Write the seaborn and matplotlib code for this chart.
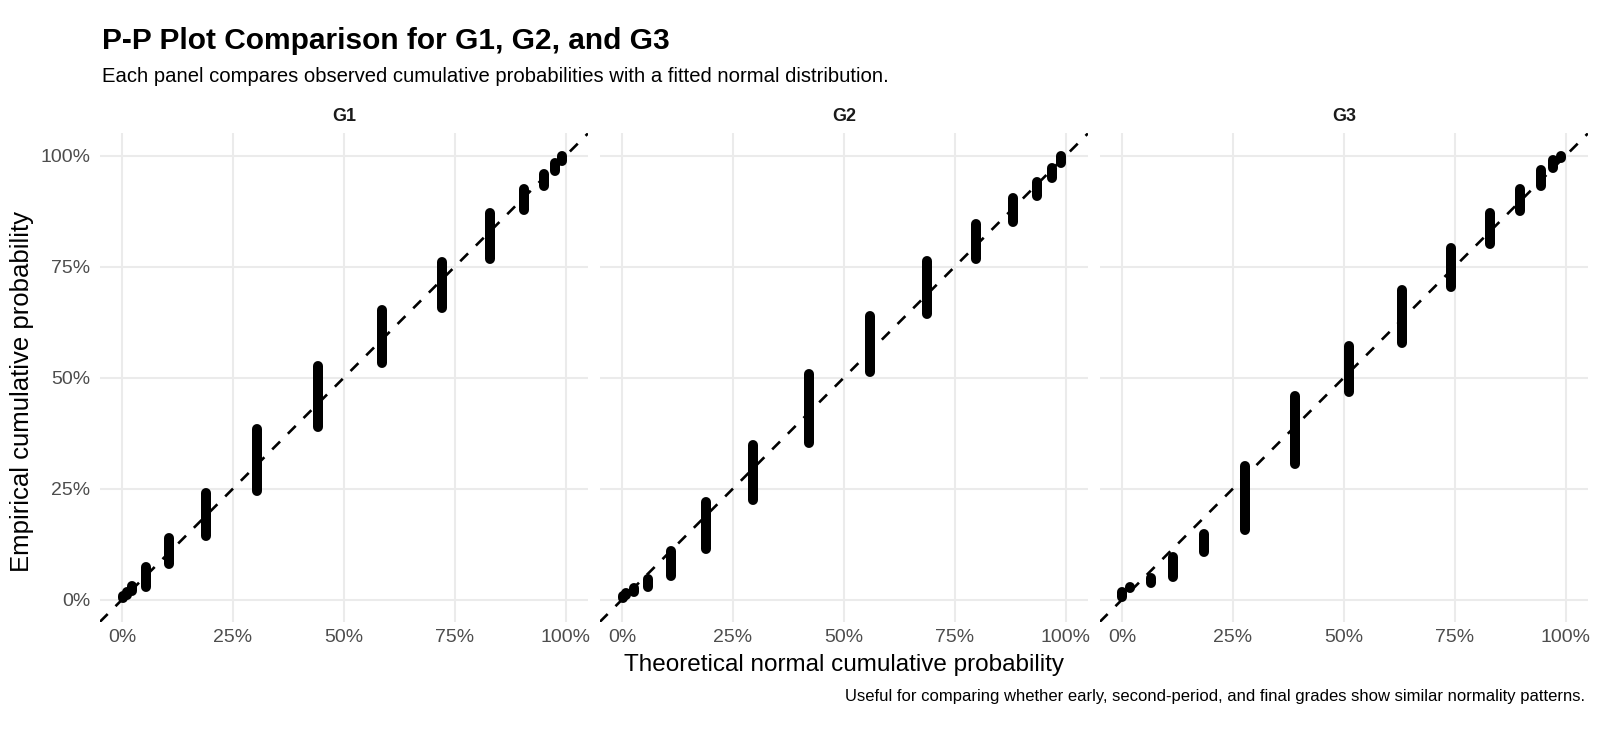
import numpy as np
import pandas as pd
import matplotlib
matplotlib.use("Agg")
import matplotlib.pyplot as plt
import seaborn as sns
from matplotlib.ticker import PercentFormatter

# ---- data (percent values) ----
grades = ["G1", "G2", "G3"]

g1_theo = [0.3, 1.2, 2.3, 5.4, 10.7, 19.0, 30.5, 44.2, 58.7, 72.1, 82.9, 90.5, 95.2, 97.6, 99.2]
g1_lo   = [0.3, 1.0, 2.0, 2.9, 8.0, 14.4, 24.5, 39.0, 53.2, 65.8, 76.7, 87.8, 93.2, 96.5, 98.8]
g1_hi   = [0.8, 1.8, 3.0, 7.4, 13.8, 24.0, 38.4, 52.6, 65.2, 76.1, 87.0, 92.6, 95.8, 98.3, 100.0]

g2_theo = [0.2, 1.0, 2.6, 5.9, 11.0, 18.9, 29.5, 42.1, 55.9, 68.8, 79.8, 88.1, 93.6, 96.9, 99.0]
g2_lo   = [0.3, 1.0, 1.8, 2.9, 5.4, 11.4, 22.4, 35.4, 51.2, 64.3, 76.7, 85.1, 90.9, 94.9, 98.3]
g2_hi   = [0.8, 1.5, 2.6, 4.6, 11.0, 22.1, 34.8, 50.8, 63.9, 76.3, 84.5, 90.4, 94.1, 97.3, 100.0]

g3_theo = [0.0, 1.9, 3.4, 6.6, 11.4, 18.5, 27.7, 38.9, 51.2, 63.2, 74.2, 82.9, 89.7, 94.4, 97.1, 98.9]
g3_lo   = [0.6, 2.7, 3.0, 3.7, 5.2, 10.7, 15.7, 30.6, 46.8, 57.7, 70.5, 80.0, 87.6, 93.2, 97.2, 99.4]
g3_hi   = [1.8, 2.8, 3.1, 4.9, 9.7, 14.9, 30.0, 45.9, 57.1, 69.7, 79.3, 87.0, 92.5, 96.8, 99.0, 100.0]

pct_ticks = [0, 25, 50, 75, 100]
diag = [-5, 105]

title = "P-P Plot Comparison for G1, G2, and G3"
subtitle = "Each panel compares observed cumulative probabilities with a fitted normal distribution."
caption = "Useful for comparing whether early, second-period, and final grades show similar normality patterns."
xlab = "Theoretical normal cumulative probability"
ylab = "Empirical cumulative probability"

# ---- long table: each stacked group is a vertical run of tied points ----
rows = []
for gname, th, lo, hi in zip(grades, [g1_theo, g2_theo, g3_theo],
                             [g1_lo, g2_lo, g3_lo], [g1_hi, g2_hi, g3_hi]):
    for i, (t, a, b) in enumerate(zip(th, lo, hi)):
        rows.append({"grade": gname, "seg": f"{gname}_{i}", "theo": t, "emp": a})
        rows.append({"grade": gname, "seg": f"{gname}_{i}", "theo": t, "emp": b})
df = pd.DataFrame(rows)

sns.set_theme(style="white")
plt.rcParams["font.family"] = ["Liberation Sans", "DejaVu Sans"]
plt.rcParams["text.color"] = "black"

g = sns.FacetGrid(df, col="grade", col_order=grades, sharex=True, sharey=True,
                  height=7.33, aspect=16 / 7.33 / 3, despine=False)


def draw_panel(data, **kws):
    ax = plt.gca()
    ax.plot(diag, diag, color="black", linestyle=(0, (4.2, 4.2)), linewidth=1.9, zorder=2)
    sns.lineplot(data=data, x="theo", y="emp", units="seg", estimator=None,
                 color="black", linewidth=7.2, solid_capstyle="round",
                 sort=False, ax=ax, zorder=3)


g.map_dataframe(draw_panel)
fig = g.figure
fig.set_size_inches(16, 7.33)
fig.subplots_adjust(left=0.0624, right=0.9924, bottom=0.1516, top=0.8179, wspace=0.0244)

for ax, gname in zip(g.axes.flat, grades):
    ax.set_xlim(-5, 105)
    ax.set_ylim(-5, 105)
    ax.set_xticks(pct_ticks)
    ax.set_yticks(pct_ticks)
    ax.xaxis.set_major_formatter(PercentFormatter(decimals=0))
    ax.yaxis.set_major_formatter(PercentFormatter(decimals=0))
    ax.grid(True, color="#EBEBEB", linewidth=1.45)
    ax.set_axisbelow(True)
    for s in ax.spines.values():
        s.set_visible(False)
    ax.tick_params(axis="both", length=0, labelsize=14, labelcolor="#4D4D4D")
    ax.tick_params(axis="x", pad=5)
    ax.tick_params(axis="y", pad=7)
    ax.set_xlabel("")
    ax.set_ylabel("")
    ax.set_title(gname, fontsize=13, fontweight="bold", pad=9, color="#1A1A1A")

fig.text(0.064, 1 - 41 / 733, title, fontsize=21.5, fontweight="bold", ha="left", va="center", color="black")
fig.text(0.064, 1 - 77 / 733, subtitle, fontsize=14.6, ha="left", va="center", color="black")
fig.text(0.5274, 1 - 665 / 733, xlab, fontsize=17.5, ha="center", va="center", color="black")
fig.text(0.0135, 1 - 392 / 733, ylab, fontsize=18.5, ha="center", va="center", rotation=90, color="black")
fig.text(0.9906, 1 - 697 / 733, caption, fontsize=12, ha="right", va="center", color="black")

fig.savefig("out.png", dpi=100, facecolor="white")
